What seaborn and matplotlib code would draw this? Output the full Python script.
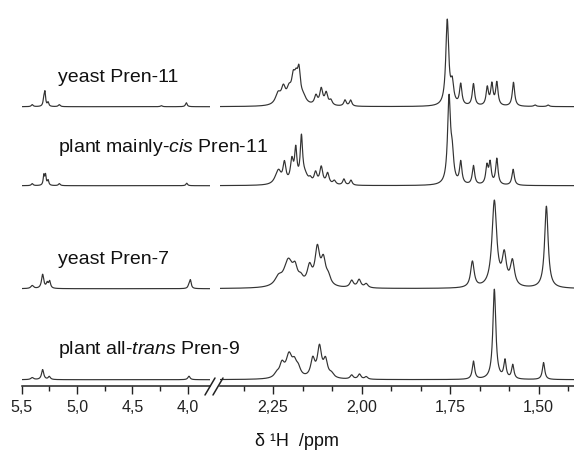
import numpy as np
import pandas as pd
import matplotlib
matplotlib.use("Agg")
import matplotlib.pyplot as plt
import seaborn as sns
from matplotlib.ticker import FixedLocator, AutoMinorLocator
from matplotlib.lines import Line2D

# sample names (top to bottom) and baseline offsets of the stacked traces
samples = ["yeast Pren-11", "plant mainly-$\\it{cis}$ Pren-11",
           "yeast Pren-7", "plant all-$\\it{trans}$ Pren-9"]
offsets = [279, 200, 97, 6]

# peak tables: shift (ppm), height, half width (ppm)
# --- 5.5 - 3.8 ppm window ---
y11_lo_shift = [5.405, 5.300, 5.290, 5.262, 5.161, 4.239, 4.014]
y11_lo_height = [2, 7, 13, 4, 2, 1, 4]
y11_lo_width = [0.010, 0.008, 0.007, 0.008, 0.010, 0.010, 0.009]

cis_lo_shift = [5.405, 5.300, 5.285, 5.262, 5.160, 4.010]
cis_lo_height = [2, 10, 10, 5, 2, 2.5]
cis_lo_width = [0.010, 0.007, 0.007, 0.008, 0.010, 0.009]

y7_lo_shift = [5.405, 5.311, 5.270, 5.248, 3.990, 3.977]
y7_lo_height = [3, 14, 5, 7, 3, 8]
y7_lo_width = [0.015, 0.012, 0.010, 0.010, 0.010, 0.009]

tr_lo_shift = [5.405, 5.311, 5.251, 3.990]
tr_lo_height = [2, 10, 3, 3.5]
tr_lo_width = [0.015, 0.012, 0.012, 0.012]

# --- 2.4 - 1.4 ppm window ---
y11_hi_shift = [2.236, 2.221, 2.205, 2.193, 2.185, 2.177, 2.165, 2.129, 2.114,
                2.100, 2.087, 2.047, 2.031, 1.758, 1.744, 1.720, 1.684, 1.645,
                1.632, 1.618, 1.571, 1.510, 1.473]
y11_hi_height = [11, 15, 13, 21, 19, 28, 7, 9, 16, 12, 5, 6, 6, 85, 20, 21,
                 22, 18, 21, 23, 24, 1.5, 1.5]
y11_hi_width = [0.009, 0.007, 0.008, 0.006, 0.006, 0.005, 0.010, 0.005, 0.005,
                0.005, 0.005, 0.004, 0.004, 0.005, 0.005, 0.004, 0.004, 0.004,
                0.004, 0.004, 0.004, 0.004, 0.004]

cis_hi_shift = [2.240, 2.234, 2.218, 2.197, 2.186, 2.170, 2.160, 2.145, 2.130,
                2.114, 2.096, 2.077, 2.050, 2.030, 1.753, 1.744, 1.720, 1.684,
                1.646, 1.637, 1.618, 1.572]
cis_hi_height = [5, 10, 20, 22, 32, 44, 8, 4, 11, 17, 11, 4, 6, 5, 85, 25,
                 22, 19, 18, 21, 26, 16]
cis_hi_width = [0.010, 0.008, 0.005, 0.005, 0.004, 0.004, 0.010, 0.005, 0.005,
                0.005, 0.005, 0.005, 0.004, 0.004, 0.005, 0.005, 0.004, 0.004,
                0.004, 0.004, 0.004, 0.004]

y7_hi_shift = [2.235, 2.207, 2.188, 2.172, 2.147, 2.125, 2.108, 2.094, 2.028,
               2.007, 1.987, 1.687, 1.625, 1.597, 1.574, 1.478]
y7_hi_height = [8, 26, 14, 6, 18, 36, 24, 8, 7, 8, 4, 26, 86, 30, 25, 82]
y7_hi_width = [0.012, 0.015, 0.008, 0.008, 0.008, 0.008, 0.008, 0.008, 0.006,
               0.006, 0.006, 0.006, 0.008, 0.007, 0.007, 0.006]

tr_hi_shift = [2.240, 2.225, 2.205, 2.190, 2.179, 2.138, 2.119, 2.102, 2.085,
               2.028, 2.006, 1.987, 1.684, 1.625, 1.595, 1.573, 1.486]
tr_hi_height = [4, 13, 22, 12, 8, 18, 30, 17, 4, 4, 5, 2.5, 18, 90, 18, 14, 17]
tr_hi_width = [0.008, 0.008, 0.010, 0.008, 0.008, 0.007, 0.007, 0.007, 0.008,
               0.005, 0.005, 0.005, 0.004, 0.005, 0.004, 0.004, 0.004]

# axis ticks
lo_ticks = [5.5, 5.0, 4.5, 4.0]
lo_ticklabels = ["5,5", "5,0", "4,5", "4,0"]
hi_ticks = [2.25, 2.00, 1.75, 1.50]
hi_ticklabels = ["2,25", "2,00", "1,75", "1,50"]


def spectrum(grid, shift, height, width):
    # Lorentzian line shapes built from the peak table
    y = np.zeros_like(grid)
    for s, h, w in zip(shift, height, width):
        y += h / (1 + ((grid - s) / w) ** 2)
    return y


def build_frame(grid, tables):
    parts = []
    for name, off, (s, h, w) in zip(samples, offsets, tables):
        parts.append(pd.DataFrame({"ppm": grid,
                                   "y": spectrum(grid, s, h, w) + off,
                                   "sample": name}))
    return pd.concat(parts, ignore_index=True)


sns.set_style("white")
plt.rcParams["font.family"] = ["Liberation Sans", "DejaVu Sans"]
plt.rcParams["mathtext.fontset"] = "custom"
plt.rcParams["mathtext.rm"] = "Liberation Sans"
plt.rcParams["mathtext.it"] = "Liberation Sans:italic"

fig = plt.figure(figsize=(5.74, 4.55), dpi=100)
W, H = 574, 455
bottom = (H - 385.7) / H
ax_lo = fig.add_axes([21.7 / W, bottom, (210 - 21.7) / W, 1 - bottom])
ax_hi = fig.add_axes([220 / W, bottom, (574 - 220) / W, 1 - bottom])

lo_grid = np.linspace(5.5, 3.8, 1500)
hi_grid = np.linspace(2.40, 1.40, 3000)
lo_df = build_frame(lo_grid, [(y11_lo_shift, y11_lo_height, y11_lo_width),
                              (cis_lo_shift, cis_lo_height, cis_lo_width),
                              (y7_lo_shift, y7_lo_height, y7_lo_width),
                              (tr_lo_shift, tr_lo_height, tr_lo_width)])
hi_df = build_frame(hi_grid, [(y11_hi_shift, y11_hi_height, y11_hi_width),
                              (cis_hi_shift, cis_hi_height, cis_hi_width),
                              (y7_hi_shift, y7_hi_height, y7_hi_width),
                              (tr_hi_shift, tr_hi_height, tr_hi_width)])

for ax, df, xlim, ticks, ticklabels, nminor in [
        (ax_lo, lo_df, (5.5, 3.8), lo_ticks, lo_ticklabels, 2),
        (ax_hi, hi_df, (2.40, 1.40), hi_ticks, hi_ticklabels, 3)]:
    sns.lineplot(data=df, x="ppm", y="y", units="sample", estimator=None,
                 sort=False, color="#333333", lw=0.85, ax=ax, legend=False)
    ax.set_xlim(*xlim)
    ax.set_ylim(0, 385.7)
    ax.set_xlabel("")
    ax.set_ylabel("")
    ax.set_yticks([])
    ax.xaxis.set_major_locator(FixedLocator(ticks))
    ax.set_xticklabels(ticklabels)
    ax.xaxis.set_minor_locator(AutoMinorLocator(nminor))
    ax.tick_params(axis="x", which="major", direction="out", length=6,
                   width=1, labelsize=11.5, pad=4, color="#222222",
                   labelcolor="#222222", bottom=True)
    ax.tick_params(axis="x", which="minor", direction="out", length=3.5,
                   width=1, color="#222222", bottom=True)
    for side in ["top", "right", "left"]:
        ax.spines[side].set_visible(False)
    ax.spines["bottom"].set_linewidth(1.1)
    ax.spines["bottom"].set_color("#222222")
    ax.patch.set_alpha(0)

# axis break marks
for x0 in [205, 213]:
    fig.add_artist(Line2D([x0 / W, (x0 + 10) / W],
                          [1 - 395 / H, 1 - 378 / H],
                          color="#222222", lw=1.1))

# sample labels
for name, yc in zip(samples, [77, 148, 260, 350]):
    fig.text(58 / W, 1 - yc / H, name, ha="left", va="center", fontsize=14,
             color="#111111")

fig.text(297 / W, 1 - 441 / H, "δ ¹H  /ppm", ha="center", va="center",
         fontsize=13, color="#111111")

fig.savefig("out.png", dpi=100)
